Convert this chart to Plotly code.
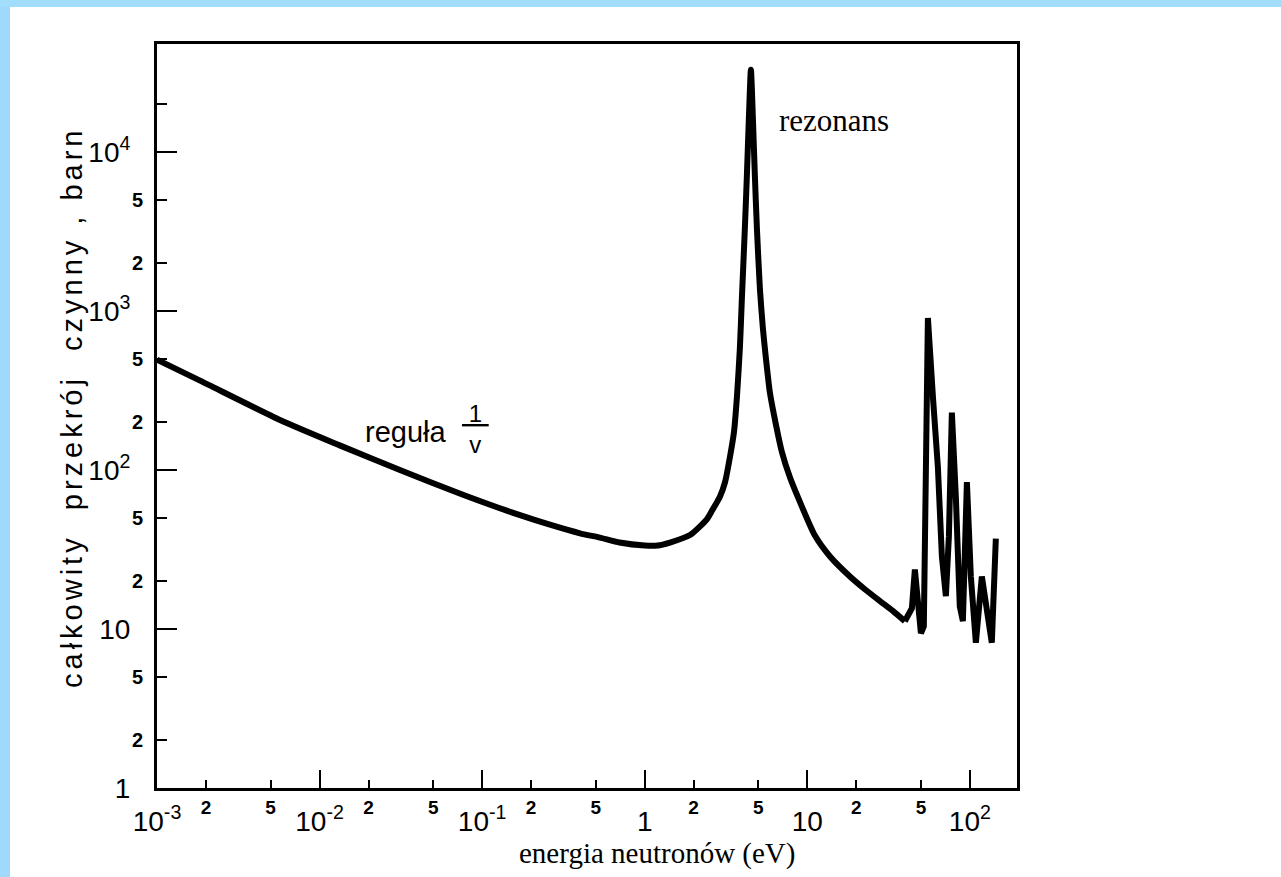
import plotly.graph_objects as go

# ---- data (neutron energy in eV, total cross section in barn) ----
# 1/v region and the main resonance (smooth part of the curve)
energy_smooth_eV = [0.001, 0.00184, 0.0058, 0.0133, 0.0312, 0.0762, 0.171, 0.261, 0.40, 0.53,
                    0.70, 1.0, 1.20, 1.43, 1.90, 2.41, 2.59, 2.90, 3.12, 3.34,
                    3.54, 3.69, 3.85, 3.96, 4.13, 4.25, 4.37, 4.50, 4.63, 4.76,
                    4.90, 5.11, 5.33, 5.56, 5.89, 6.41, 6.98, 7.82, 9.01, 11.1,
                    13.8, 18.3, 22.6, 28.0, 33.6, 39.8]
sigma_smooth_barn = [494, 365, 205, 143, 100, 70, 52, 45.3, 40, 37.6,
                     35, 33.5, 33.5, 35, 39, 49, 55.4, 68, 84, 120,
                     173, 286, 587, 1200, 3300, 7100, 16100, 33000, 16100, 7100,
                     3300, 1390, 783, 510, 307, 194, 130, 90, 63, 39,
                     28.6, 21.4, 17.8, 15.0, 13.0, 11.2]
# group of narrow resonances above 40 eV
energy_res_eV = [39.8, 44.0, 45.9, 47.9, 50.0, 52.1, 53.6, 55.2, 59.3, 63.6,
                 67.3, 71.2, 74.3, 77.5, 82.0, 86.7, 90.6, 95.9, 101.4, 108.9,
                 118.5, 127.1, 136.5, 144.5]
sigma_res_barn = [11.2, 13.5, 23.7, 13.0, 9.4, 10.4, 139, 904, 286, 104,
                  28.6, 16.1, 38.1, 230, 68, 13.9, 11.2, 84, 21.4, 8.2,
                  21.4, 13.9, 8.2, 37.0]

x_decades = [0.001, 0.01, 0.1, 1, 10, 100]
x_decade_labels = ["10<sup>-3</sup>", "10<sup>-2</sup>", "10<sup>-1</sup>", "1", "10", "10<sup>2</sup>"]
x_minor = [0.002, 0.005, 0.02, 0.05, 0.2, 0.5, 2, 5, 20, 50]
x_minor_labels = ["2", "5", "2", "5", "2", "5", "2", "5", "2", "5"]

y_decades = [1, 10, 100, 1000, 10000]
y_decade_labels = ["1", "10", "10<sup>2</sup>", "10<sup>3</sup>", "10<sup>4</sup>"]
y_minor = [2, 5, 20, 50, 200, 500, 2000, 5000, 20000]
y_minor_labels = ["2", "5", "2", "5", "2", "5", "2", "5", ""]

SANS = "Liberation Sans, Arial, sans-serif"
SERIF = "Liberation Serif, Times New Roman, serif"

fig = go.Figure()
fig.add_trace(go.Scatter(x=energy_smooth_eV, y=sigma_smooth_barn, mode="lines",
                         line=dict(color="black", width=6, shape="spline", smoothing=0.6),
                         showlegend=False, hoverinfo="skip"))
fig.add_trace(go.Scatter(x=energy_res_eV, y=sigma_res_barn, mode="lines",
                         line=dict(color="black", width=6),
                         showlegend=False, hoverinfo="skip"))
# helper trace so the overlaid label axes are drawn
fig.add_trace(go.Scatter(x=energy_smooth_eV[:1], y=sigma_smooth_barn[:1], xaxis="x2", yaxis="y2",
                         mode="lines", line=dict(width=0), showlegend=False, hoverinfo="skip"))

PW, PH = 860, 744
ML, MT = 157, 44
XR = [-3, 2.29]
YR = [0, 4.68]

fig.update_layout(
    width=1281, height=877, autosize=False,
    margin=dict(l=ML, r=1281 - ML - PW, t=MT, b=877 - MT - PH, autoexpand=False),
    paper_bgcolor="white", plot_bgcolor="white",
    xaxis=dict(type="log", range=XR, showgrid=False, zeroline=False,
               showline=True, linecolor="black", linewidth=3, mirror=True,
               tickmode="array", tickvals=x_decades, ticktext=x_decade_labels,
               ticks="inside", ticklen=18, tickwidth=2, tickcolor="black",
               tickfont=dict(family=SANS, size=28, color="black"),
               ticklabelstandoff=6, automargin=False,
               minor=dict(tickmode="array", tickvals=x_minor, ticks="inside",
                          ticklen=8, tickwidth=2, tickcolor="black", showgrid=False)),
    xaxis2=dict(type="log", range=XR, overlaying="x", matches="x", anchor="y",
                side="bottom", showgrid=False, zeroline=False, showline=False,
                tickmode="array", tickvals=x_minor, ticktext=x_minor_labels,
                ticks="", tickfont=dict(family=SANS, size=19, color="black", weight="bold"),
                ticklabelstandoff=6, automargin=False),
    yaxis=dict(type="log", range=YR, showgrid=False, zeroline=False,
               showline=True, linecolor="black", linewidth=3, mirror=True,
               tickmode="array", tickvals=y_decades, ticktext=y_decade_labels,
               ticks="inside", ticklen=20, tickwidth=2, tickcolor="black",
               tickfont=dict(family=SANS, size=28, color="black"),
               ticklabelstandoff=18, automargin=False,
               minor=dict(tickmode="array", tickvals=y_minor, ticks="inside",
                          ticklen=10, tickwidth=2, tickcolor="black", showgrid=False)),
    yaxis2=dict(type="log", range=YR, overlaying="y", matches="y", anchor="x",
                side="left", showgrid=False, zeroline=False, showline=False,
                tickmode="array", tickvals=y_minor, ticktext=y_minor_labels,
                ticks="", tickfont=dict(family=SANS, size=20, color="black", weight="bold"),
                ticklabelstandoff=13, automargin=False),
)

def px_x(p):  # pixel -> paper x
    return (p - ML) / PW

def px_y(p):  # pixel -> paper y
    return (MT + PH - p) / PH

# light-blue frame of the slide
fig.add_shape(type="rect", xref="paper", yref="paper",
              x0=px_x(0), x1=px_x(10), y0=px_y(877), y1=px_y(0),
              fillcolor="#9fdafc", line=dict(width=0), layer="below")
fig.add_shape(type="rect", xref="paper", yref="paper",
              x0=px_x(0), x1=px_x(1281), y0=px_y(7), y1=px_y(0),
              fillcolor="#a3ddfc", line=dict(width=0), layer="below")

# axis titles
fig.add_annotation(xref="paper", yref="paper", x=px_x(72), y=px_y(408),
                   text='<span style="letter-spacing:4px">całkowity  przekrój  czynny , barn</span>',
                   textangle=-90, showarrow=False, xanchor="center", yanchor="middle",
                   font=dict(family=SANS, size=29, color="black"))
fig.add_annotation(xref="paper", yref="paper", x=px_x(657), y=px_y(853),
                   text="energia neutronów (eV)", showarrow=False,
                   xanchor="center", yanchor="middle",
                   font=dict(family=SERIF, size=29, color="black"))

# in-plot labels
fig.add_annotation(xref="x", yref="y", x=1.167, y=4.2, text="rezonans",
                   showarrow=False, xanchor="center", yanchor="middle",
                   font=dict(family=SERIF, size=31, color="black"))
fig.add_annotation(xref="x", yref="y", x=-1.469, y=2.24, text="reguła",
                   showarrow=False, xanchor="center", yanchor="middle",
                   font=dict(family=SANS, size=29, color="black"))
fig.add_annotation(xref="x", yref="y", x=-1.04, y=2.26,
                   text="<u>&nbsp;1&nbsp;</u><br>v",
                   showarrow=False, xanchor="center", yanchor="middle",
                   font=dict(family=SANS, size=24, color="black"))

fig.write_html("out.html", config={"displayModeBar": False},
               post_script="document.body.style.margin='0px';")
